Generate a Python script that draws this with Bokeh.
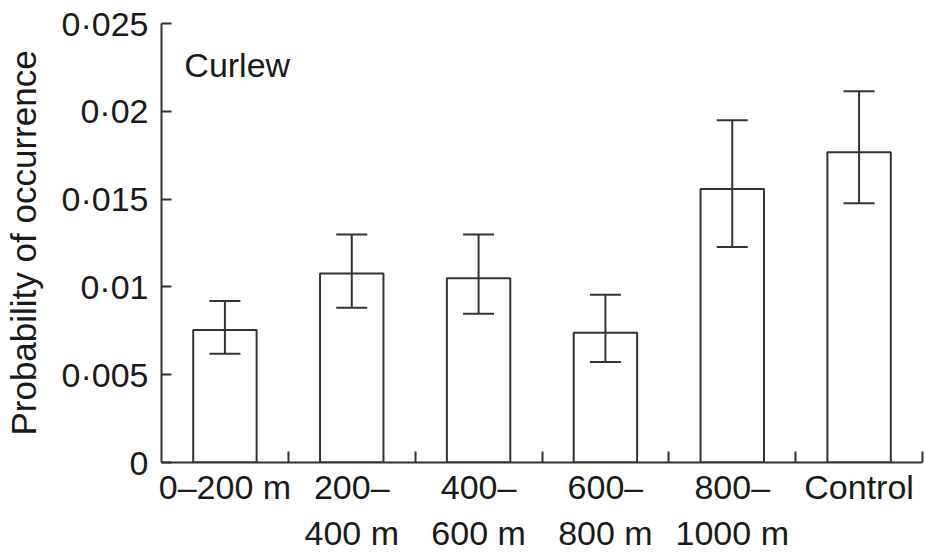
from bokeh.plotting import figure
from bokeh.models import FixedTicker, LinearAxis, Range1d, Whisker, ColumnDataSource, Label, TeeHead
from bokeh.embed import file_html
from bokeh.resources import INLINE

# ---- data ----
categories_line1 = ["0–200 m", "200–", "400–", "600–", "800–", "Control"]
categories_line2 = ["", "400 m", "600 m", "800 m", "1000 m", ""]
probability = [0.00754, 0.01076, 0.01049, 0.00739, 0.01557, 0.01767]
upper_ci = [0.00919, 0.01298, 0.01298, 0.00955, 0.01949, 0.02114]
lower_ci = [0.00619, 0.00881, 0.00847, 0.00572, 0.01227, 0.01477]
y_ticks = [0, 0.005, 0.01, 0.015, 0.02, 0.025]
y_tick_labels = ["0", "0·005", "0·01", "0·015", "0·02", "0·025"]
species = "Curlew"
y_title = "Probability of occurrence"

FONT = "Liberation Sans"
INK = "#333333"
TXT = "#1a1a1a"

n = len(probability)
centers = [i + 0.5 for i in range(n)]
boundaries = [i + 1 for i in range(n)]

src = ColumnDataSource(dict(x=centers, top=probability, upper=upper_ci, lower=lower_ci))

p = figure(width=925, height=555, output_backend="svg", toolbar_location=None,
           x_range=Range1d(0, n), y_range=Range1d(0, 0.025),
           x_axis_type=None, y_axis_type=None,
           min_border_left=160, min_border_right=3, min_border_top=23, min_border_bottom=93)
p.outline_line_color = None
p.background_fill_color = "white"
p.border_fill_color = "white"

p.vbar(x="x", top="top", width=0.5, bottom=0, source=src,
       fill_color="white", line_color=INK, line_width=2)

w = Whisker(base="x", upper="upper", lower="lower", source=src,
            line_color=INK, line_width=2, level="overlay",
            upper_head=TeeHead(size=31, line_color=INK, line_width=2),
            lower_head=TeeHead(size=31, line_color=INK, line_width=2))
p.add_layout(w)

# y axis
yax = LinearAxis(ticker=FixedTicker(ticks=y_ticks, minor_ticks=[]),
                 major_label_overrides={t: l for t, l in zip(y_ticks, y_tick_labels)},
                 axis_label=y_title)
yax.axis_line_color = INK
yax.axis_line_width = 2
yax.major_tick_line_color = INK
yax.major_tick_line_width = 2
yax.major_tick_in = 10
yax.major_tick_out = 0
yax.minor_tick_line_color = None
yax.major_label_text_font = FONT
yax.major_label_text_font_size = "34px"
yax.major_label_text_color = TXT
yax.major_label_standoff = 13
yax.axis_label_text_font = FONT
yax.axis_label_text_font_size = "35px"
yax.axis_label_text_font_style = "normal"
yax.axis_label_text_color = TXT
yax.axis_label_standoff = 16
p.add_layout(yax, "left")

# x axis: first line of labels, boundary ticks pointing inward
xax = LinearAxis(ticker=FixedTicker(ticks=centers, minor_ticks=boundaries),
                 major_label_overrides={c: l for c, l in zip(centers, categories_line1)})
xax.axis_line_color = INK
xax.axis_line_width = 2
xax.major_tick_line_color = None
xax.major_tick_in = 0
xax.major_tick_out = 0
xax.minor_tick_line_color = INK
xax.minor_tick_line_width = 2
xax.minor_tick_in = 11
xax.minor_tick_out = 0
xax.major_label_text_font = FONT
xax.major_label_text_font_size = "34px"
xax.major_label_text_color = TXT
xax.major_label_standoff = 5
p.add_layout(xax, "below")

# x axis: second line of labels
xax2 = LinearAxis(ticker=FixedTicker(ticks=centers, minor_ticks=[]),
                  major_label_overrides={c: (l if l else " ") for c, l in zip(centers, categories_line2)})
xax2.axis_line_color = None
xax2.major_tick_line_color = None
xax2.minor_tick_line_color = None
xax2.major_tick_in = 0
xax2.major_tick_out = 0
xax2.major_label_text_font = FONT
xax2.major_label_text_font_size = "34px"
xax2.major_label_text_color = TXT
xax2.major_label_standoff = 5
p.add_layout(xax2, "below")

p.add_layout(Label(x=0.18, y=0.02265, text=species, text_font=FONT,
                   text_font_size="34px", text_color=TXT, text_baseline="alphabetic"))

open("out.html", "w").write(file_html(p, INLINE))
